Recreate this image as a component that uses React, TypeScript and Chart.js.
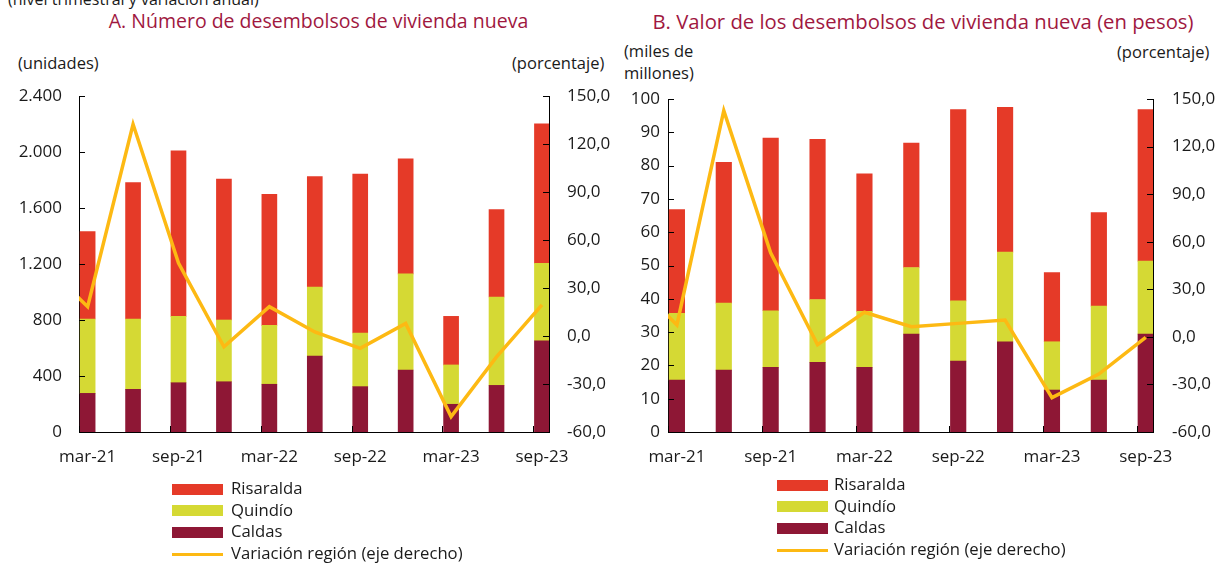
import React, { useEffect, useRef } from 'react';
import { Chart, registerables } from 'chart.js';

Chart.register(...registerables);

// ---------- data ----------
const QUARTERS = ['mar-21', 'jun-21', 'sep-21', 'dic-21', 'mar-22', 'jun-22', 'sep-22', 'dic-22', 'mar-23', 'jun-23', 'sep-23'];
const X_LABEL_INDEX = [0, 2, 4, 6, 8, 10];

// Panel A: número de desembolsos (unidades)
const A_CALDAS = [276, 305, 352, 359, 341, 543, 324, 443, 198, 333, 652];
const A_QUINDIO = [531, 502, 474, 441, 421, 493, 383, 686, 281, 631, 553];
const A_RISARALDA = [624, 974, 1183, 1007, 936, 788, 1136, 823, 347, 624, 997];
const A_VARIACION = [18.3, 132.3, 45.6, -6.7, 18.3, 2.5, -7.7, 7.9, -50.4, -13.1, 19.4];
const A_VARIACION_PREV = 46; // dic-20, only visible as the clipped start of the line

// Panel B: valor de los desembolsos (miles de millones)
const B_CALDAS = [15.6, 18.6, 19.4, 20.9, 19.4, 29.4, 21.3, 27.1, 12.6, 15.6, 29.4];
const B_QUINDIO = [20.0, 20.1, 17.0, 18.9, 16.8, 20.0, 18.1, 26.9, 14.5, 22.2, 21.9];
const B_RISARALDA = [31.2, 42.3, 51.9, 48.1, 41.3, 37.4, 57.4, 43.5, 20.8, 28.1, 45.5];
const B_VARIACION = [7.5, 142.6, 53.0, -5.0, 15.5, 6.4, 8.5, 10.6, -38.3, -23.5, -0.3];
const B_VARIACION_PREV = 37; // dic-20

const SERIES_NAMES = ['Risaralda', 'Quindío', 'Caldas', 'Variación región (eje derecho)'];

const COLORS = {
  risaralda: '#E53A28',
  quindio: '#D5D934',
  caldas: '#8E1735',
  line: '#FDB913',
  title: '#A0183F',
};

const TEXT_FONT = '"Open Sans", Lato, sans-serif';
const TICK_FONT = '"Open Sans", Lato, sans-serif';

function fmtThousands(v: number): string {
  return Math.round(v).toString().replace(/\B(?=(\d{3})+(?!\d))/g, '.');
}
function fmtPct(v: number): string {
  return v.toFixed(1).replace('.', ',');
}

const X_MIN = -0.19;
const X_MAX = 10.155;
const X_MARK_SHIFT = -0.19;

const innerTicks = {
  id: 'innerTicks',
  afterDraw(chart: any) {
    const { ctx, chartArea, scales } = chart;
    const len = 6;
    ctx.save();
    ctx.strokeStyle = '#000';
    ctx.lineWidth = 1;
    ctx.beginPath();
    scales.y.ticks.forEach((t: any) => {
      const py = Math.round(scales.y.getPixelForValue(t.value)) + 0.5;
      ctx.moveTo(chartArea.left, py);
      ctx.lineTo(chartArea.left + len, py);
    });
    scales.y1.ticks.forEach((t: any) => {
      const py = Math.round(scales.y1.getPixelForValue(t.value)) + 0.5;
      ctx.moveTo(chartArea.right, py);
      ctx.lineTo(chartArea.right - len, py);
    });
    X_LABEL_INDEX.forEach((i) => {
      const px = Math.round(scales.x.getPixelForValue(i + X_MARK_SHIFT)) + 0.5;
      ctx.moveTo(px, chartArea.bottom);
      ctx.lineTo(px, chartArea.bottom - len);
    });
    ctx.stroke();
    ctx.restore();
  },
};

type PanelProps = {
  width: number;
  height: number;
  plotLeft: number;
  plotRight: number;
  plotTop: number;
  plotBottom: number;
  caldas: number[];
  quindio: number[];
  risaralda: number[];
  variacion: number[];
  variacionPrev: number;
  yMax: number;
  yStep: number;
  yFormat: (v: number) => string;
  leftPad: number;
  rightPad: number;
  barThickness: number;
};

function Panel(p: PanelProps) {
  const ref = useRef<HTMLCanvasElement | null>(null);
  useEffect(() => {
    if (!ref.current) return;
    const linePoints = [{ x: -1, y: p.variacionPrev }].concat(p.variacion.map((v, i) => ({ x: i, y: v })));
    const bar = (label: string, vals: number[], color: string) => ({
      type: 'bar' as const,
      label,
      data: vals.map((v, i) => ({ x: i, y: v })),
      backgroundColor: color,
      borderWidth: 0,
      barThickness: p.barThickness,
      yAxisID: 'y',
      order: 1,
    });
    const tickFont = { family: TICK_FONT, size: 17 };
    const chart = new Chart(ref.current, {
      type: 'bar',
      data: {
        datasets: [
          {
            type: 'line',
            label: SERIES_NAMES[3],
            data: linePoints,
            borderColor: COLORS.line,
            backgroundColor: COLORS.line,
            borderWidth: 3.5,
            pointRadius: 0,
            tension: 0,
            yAxisID: 'y1',
            order: 0,
            clip: 0,
          } as any,
          bar(SERIES_NAMES[2], p.caldas, COLORS.caldas),
          bar(SERIES_NAMES[1], p.quindio, COLORS.quindio),
          bar(SERIES_NAMES[0], p.risaralda, COLORS.risaralda),
        ],
      },
      options: {
        responsive: false,
        animation: false,
        layout: { padding: { top: p.plotTop, left: 0, right: 0, bottom: 0 } },
        plugins: { legend: { display: false }, tooltip: { enabled: false }, title: { display: false } },
        scales: {
          x: {
            type: 'linear',
            min: X_MIN,
            max: X_MAX,
            offset: false,
            stacked: true,
            grid: { display: false, drawTicks: false, offset: false },
            border: { display: true, color: '#000', width: 1 },
            afterBuildTicks: (s: any) => {
              s.ticks = X_LABEL_INDEX.map((v) => ({ value: v }));
            },
            afterFit: (s: any) => {
              s.height = p.height - p.plotBottom;
            },
            ticks: {
              autoSkip: false,
              maxRotation: 0,
              padding: 15,
              color: '#1a1a1a',
              font: tickFont,
              callback: (v: any) => QUARTERS[Number(v)] ?? '',
            },
          },
          y: {
            type: 'linear',
            position: 'left',
            stacked: true,
            min: 0,
            max: p.yMax,
            grid: { display: false, drawTicks: false },
            border: { display: true, color: '#000', width: 1 },
            afterFit: (s: any) => {
              s.width = p.plotLeft;
            },
            ticks: {
              stepSize: p.yStep,
              padding: p.leftPad,
              color: '#1a1a1a',
              font: tickFont,
              callback: (v: any) => p.yFormat(Number(v)),
            },
          },
          y1: {
            type: 'linear',
            position: 'right',
            min: -60,
            max: 150,
            grid: { display: false, drawTicks: false },
            border: { display: true, color: '#000', width: 1 },
            afterFit: (s: any) => {
              s.width = p.width - p.plotRight;
            },
            ticks: {
              stepSize: 30,
              padding: p.rightPad,
              color: '#1a1a1a',
              font: tickFont,
              callback: (v: any) => fmtPct(Number(v)),
            },
          },
        },
      },
      plugins: [innerTicks],
    });
    return () => chart.destroy();
  }, []);
  return <canvas ref={ref} width={p.width} height={p.height} style={{ display: 'block', width: p.width, height: p.height }} />;
}

function Legend({ left, top, textLeft }: { left: number; top: number; textLeft: number }) {
  const items = [
    { name: SERIES_NAMES[0], color: COLORS.risaralda, line: false },
    { name: SERIES_NAMES[1], color: COLORS.quindio, line: false },
    { name: SERIES_NAMES[2], color: COLORS.caldas, line: false },
    { name: SERIES_NAMES[3], color: COLORS.line, line: true },
  ];
  return (
    <div style={{ position: 'absolute', left, top }}>
      {items.map((it, k) => (
        <div key={k} style={{ position: 'absolute', left: 0, top: k * 21.7, height: 22, width: 400 }}>
          <div
            style={{
              position: 'absolute',
              left: 0,
              top: it.line ? 9.5 : 5.5,
              width: 51,
              height: it.line ? 3.5 : 11,
              background: it.color,
            }}
          />
          <div
            style={{
              position: 'absolute',
              left: textLeft,
              top: -1,
              lineHeight: '22px',
              fontSize: 16.7,
              fontFamily: TEXT_FONT,
              color: '#1a1a1a',
              whiteSpace: 'nowrap',
            }}
          >
            {it.name}
          </div>
        </div>
      ))}
    </div>
  );
}

const abs = (left: number, top: number, extra: any = {}) => ({
  position: 'absolute' as const,
  left,
  top,
  whiteSpace: 'nowrap' as const,
  fontFamily: TEXT_FONT,
  color: '#1a1a1a',
  ...extra,
});

const centered = (cx: number, top: number, extra: any = {}) => ({
  ...abs(cx - 400, top, extra),
  width: 800,
  textAlign: 'center' as const,
});

export default function App() {
  return (
    <div style={{ position: 'absolute', left: 0, top: 0, width: 1222, height: 563, overflow: 'hidden', background: '#fff' }}>
      <div style={abs(8, -9, { fontSize: 16, lineHeight: '16px' })}>(nivel trimestral y variación anual)</div>
      <div style={centered(318.5, 8, { fontSize: 19.5, lineHeight: '26px', color: COLORS.title })}>A. Número de desembolsos de vivienda nueva</div>
      <div style={centered(923, 7.5, { fontSize: 20.3, lineHeight: '26px', color: COLORS.title })}>B. Valor de los desembolsos de vivienda nueva (en pesos)</div>

      <div style={abs(18, 52, { fontSize: 16.5, lineHeight: '22px' })}>(unidades)</div>
      <div style={abs(512, 52, { fontSize: 16.5, lineHeight: '22px' })}>(porcentaje)</div>
      <div style={abs(624, 40, { fontSize: 16.5, lineHeight: '21.5px' })}>
        (miles de
        <br />
        millones)
      </div>
      <div style={abs(1117, 41, { fontSize: 16.5, lineHeight: '22px' })}>(porcentaje)</div>

      <div style={{ position: 'absolute', left: 0, top: 0 }}>
        <Panel
          width={610}
          height={478}
          plotLeft={79}
          plotRight={549}
          plotTop={96}
          plotBottom={432}
          caldas={A_CALDAS}
          quindio={A_QUINDIO}
          risaralda={A_RISARALDA}
          variacion={A_VARIACION}
          variacionPrev={A_VARIACION_PREV}
          yMax={2400}
          yStep={400}
          yFormat={fmtThousands}
          leftPad={17}
          rightPad={18}
          barThickness={15}
        />
      </div>
      <div style={{ position: 'absolute', left: 610, top: 0 }}>
        <Panel
          width={612}
          height={478}
          plotLeft={58}
          plotRight={543}
          plotTop={99}
          plotBottom={432}
          caldas={B_CALDAS}
          quindio={B_QUINDIO}
          risaralda={B_RISARALDA}
          variacion={B_VARIACION}
          variacionPrev={B_VARIACION_PREV}
          yMax={100}
          yStep={10}
          yFormat={(v) => String(Math.round(v))}
          leftPad={8}
          rightPad={19}
          barThickness={15.5}
        />
      </div>

      <Legend left={172} top={478} textLeft={59} />
      <Legend left={777} top={474} textLeft={57} />
    </div>
  );
}
